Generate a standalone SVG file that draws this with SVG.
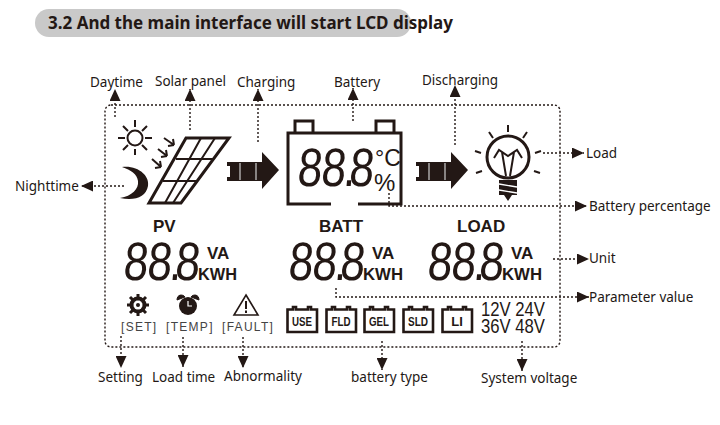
<svg xmlns="http://www.w3.org/2000/svg" xmlns:xlink="http://www.w3.org/1999/xlink" width="720" height="425" viewBox="0 0 720 425">
<style>
text{font-family:"Noto Sans","Open Sans","Liberation Sans",sans-serif;fill:#231815}
.lbl{font-size:13.5px}
.b{font-family:"Liberation Sans",Arial,sans-serif;font-weight:700}
.h{font-size:17px}
.u{font-size:17px}
.d{font-family:"Liberation Sans",Arial,sans-serif;font-size:54px}
.tag{font-family:"Liberation Sans",Arial,sans-serif;font-size:12px;letter-spacing:1.3px;fill:#444}
.chip{font-family:"Liberation Sans",Arial,sans-serif;font-weight:700;font-size:13px;text-anchor:middle}
.v{font-family:"Liberation Sans",Arial,sans-serif;font-size:20px}
.dot{fill:none;stroke:#231815;stroke-width:1.4;stroke-dasharray:2 2}
.ln{fill:none;stroke:#231815;stroke-width:3}
.th{fill:none;stroke:#231815;stroke-width:2;stroke-linecap:butt}
.gap{stroke:#fff;stroke-width:1.2;fill:none}
.f{fill:#231815}
</style>
<defs>
<marker id="ah" viewBox="0 0 12 11" refX="12" refY="5.5" markerWidth="12" markerHeight="11" markerUnits="userSpaceOnUse" orient="auto"><path d="M0 0L12 5.5L0 11Z" fill="#231815"/></marker>
<g id="gaps" class="gap">
<path d="M-1 3L5 8M18 2L24 8M-2 17L5 21M17 17L23 21M-2 33L5 39M16 33L23 39M7 20L16 20" transform="translate(0,-2)"/>
</g>
<g id="bigarrow">
<path d="M0 10H35V0L52 18L35 37V29H0V25H3V14H0Z" class="f"/>
<path d="M13 11V28M29 11V28" stroke="#ccc" stroke-width="1.2"/>
</g>
<g id="cell"><path d="M3 3H9V0H12V3H21V0H24V3H29V25H3Z" fill="none"/></g>
</defs>

<g id="banner">
<rect x="35" y="9" width="376" height="28" rx="14" fill="#c9c9c9"/>
<text x="48" y="29" font-size="17" font-weight="700" style="font-family:'Noto Sans','Open Sans',sans-serif">3.2 And the main interface will start LCD display</text>
</g>

<g id="frame"><rect x="105" y="105" width="455" height="242" rx="6" class="dot"/></g>

<g id="connectors">
<path d="M115 117V89" class="dot" marker-end="url(#ah)"/>
<path d="M190 130V89" class="dot" marker-end="url(#ah)"/>
<path d="M258 142V89" class="dot" marker-end="url(#ah)"/>
<path d="M353 121V88" class="dot" marker-end="url(#ah)"/>
<path d="M455 145V85" class="dot" marker-end="url(#ah)"/>
<path d="M124 186H81" class="dot" marker-end="url(#ah)"/>
<path d="M543 153H584" class="dot" marker-end="url(#ah)"/>
<path d="M389 193V206H587" class="dot" marker-end="url(#ah)"/>
<path d="M553 259H589" class="dot" marker-end="url(#ah)"/>
<path d="M336 288V297H589" class="dot" marker-end="url(#ah)"/>
<path d="M121 336V368" class="dot" marker-end="url(#ah)"/>
<path d="M183 337V367" class="dot" marker-end="url(#ah)"/>
<path d="M243 337V368" class="dot" marker-end="url(#ah)"/>
<path d="M382 341V370" class="dot" marker-end="url(#ah)"/>
<path d="M522 341V371" class="dot" marker-end="url(#ah)"/>
</g>

<g id="labels">
<text class="lbl" x="90" y="87">Daytime</text>
<text class="lbl" x="155" y="86">Solar panel</text>
<text class="lbl" x="237" y="87">Charging</text>
<text class="lbl" x="334" y="87">Battery</text>
<text class="lbl" x="422" y="85">Discharging</text>
<text class="lbl" x="15" y="191">Nighttime</text>
<text class="lbl" x="586" y="158">Load</text>
<text class="lbl" x="589" y="211">Battery percentage</text>
<text class="lbl" x="589" y="263">Unit</text>
<text class="lbl" x="589" y="302">Parameter value</text>
<text class="lbl" x="98" y="382">Setting</text>
<text class="lbl" x="152" y="382">Load time</text>
<text class="lbl" x="224" y="381">Abnormality</text>
<text class="lbl" x="351" y="382">battery type</text>
<text class="lbl" x="481" y="383">System voltage</text>
</g>

<g id="sun" class="th">
<circle cx="135" cy="138" r="7.5"/>
<path d="M135 120V127M135 149V155M118 138H125M145 138H152M123 126L128 131M147 126L142 131M123 150L128 145M147 150L142 145"/>
</g>
<g id="moon"><path d="M122 167C138 165 150 176 148 186C146 197 135 201 120 198C132 196 139 189 138 181C137 174 131 170 122 167Z" class="f"/></g>
<g id="sunrays" class="th">
<path d="M164 138L174 145M174 145L168 146M174 145L173 139M158 149L167 156M167 156L161 157M167 156L166 150M152 159L161 167M161 167L155 168M161 167L160 161"/>
</g>
<g id="solar-panel">
<path d="M186 138H229L181 203H149Z" class="ln"/>
<path d="M201 138L165 203M215 138L173 203M176 159H214M163 181H197" class="th"/>
</g>
<g id="charge-arrow"><use href="#bigarrow" x="227" y="152"/></g>
<g id="discharge-arrow"><use href="#bigarrow" x="416" y="152"/></g>

<g id="battery">
<path d="M331 204H288V133H401V204H358" class="ln"/>
<path d="M295 133V121H313V133M376 133V121H394V133" class="ln"/>
<text x="375" y="166" font-size="23" class="b" style="font-weight:400;font-family:'Liberation Sans',sans-serif">°C</text>
<text x="374" y="191" font-size="24" style="font-family:'Liberation Sans',sans-serif">%</text>
<g transform="translate(299,186) skewX(-5)"><text class="d" transform="scale(.82,1)" x="-3 26 53 60" y="0">88.8</text></g>
</g>

<g id="bulb" class="th">
<circle cx="508" cy="157" r="21" stroke-width="3" style="stroke-width:3"/>
<path d="M503 177H513M493 172C498 178 500 180 500 186H516C516 180 518 178 523 172" style="stroke-width:0"/>
<path d="M494 158L499 150L508 156L517 150L522 158M502 152L506 176M514 152L510 176"/>
<path d="M508 125V132M489 132L493 138M527 132L523 138M475 151L481 153M541 151L535 153M476 173L482 171M540 173L534 171" style="stroke-width:2"/>
<path d="M499 180H517V195H512L508 201L504 195H499Z" class="f" style="stroke:none"/>
<path d="M499 184L517 187M499 190L517 193" stroke="#fff" style="stroke:#fff;stroke-width:1.3"/>
</g>

<g id="pv-panel">
<text class="b h" x="153" y="232">PV</text>
<g transform="translate(125,280) skewX(-5)"><text class="d" transform="scale(.82,1)" x="-3 26 53 60" y="0">88.8</text></g>
<text class="b u" x="207" y="259">VA</text>
<text class="b u" x="198" y="280" textLength="39" lengthAdjust="spacingAndGlyphs">KWH</text>
</g>
<g id="batt-panel">
<text class="b h" x="319" y="232">BATT</text>
<g transform="translate(290,280) skewX(-5)"><text class="d" transform="scale(.82,1)" x="-3 26 53 60" y="0">88.8</text></g>
<text class="b u" x="372" y="259">VA</text>
<text class="b u" x="363" y="280" textLength="40" lengthAdjust="spacingAndGlyphs">KWH</text>
</g>
<g id="load-panel">
<text class="b h" x="457" y="232">LOAD</text>
<g transform="translate(429,280) skewX(-5)"><text class="d" transform="scale(.82,1)" x="-3 26 53 60" y="0">88.8</text></g>
<text class="b u" x="511" y="259">VA</text>
<text class="b u" x="502" y="280" textLength="40" lengthAdjust="spacingAndGlyphs">KWH</text>
</g>

<g id="set">
<circle cx="138" cy="305" r="6.5" fill="none" stroke="#231815" stroke-width="4"/>
<path d="M138 294V316M127 305H149M130 297L146 313M146 297L130 313" stroke="#231815" stroke-width="3"/>
<circle cx="138" cy="305" r="4.5" fill="#fff"/><circle cx="138" cy="305" r="2" class="f"/>
<text class="tag" x="121" y="331">[SET]</text>
</g>
<g id="temp">
<circle cx="188" cy="306" r="9" class="f"/>
<path d="M177 300C177 294 183 294 185 297ZM199 300C199 294 193 294 191 297Z" class="f" stroke="#231815"/>
<path d="M188 301V306H192" stroke="#fff" stroke-width="1.2" fill="none"/>
<text class="tag" x="166" y="331">[TEMP]</text>
</g>
<g id="fault">
<path d="M246 295L258 315H234Z" fill="none" stroke="#231815" stroke-width="1.6"/>
<path d="M246 301V309M246 310.500V313" stroke="#231815" stroke-width="2"/>
<text class="tag" x="222" y="331">[FAULT]</text>
</g>

<g id="use-chip"><path d="M287.500 309.500H293V307H296V309.500H308V307H311V309.500H317V332H287.500Z" fill="none" stroke="#231815" stroke-width="2.600"/><text class="chip" x="302" y="326" textLength="20" lengthAdjust="spacingAndGlyphs">USE</text></g>
<g id="fld-chip"><path d="M326.500 309.500H332V307H335V309.500H347V307H350V309.500H356V332H326.500Z" fill="none" stroke="#231815" stroke-width="2.600"/><text class="chip" x="341" y="326" textLength="19" lengthAdjust="spacingAndGlyphs">FLD</text></g>
<g id="gel-chip"><path d="M364.500 309.500H370V307H373V309.500H385V307H388V309.500H394V332H364.500Z" fill="none" stroke="#231815" stroke-width="2.600"/><text class="chip" x="379" y="326" textLength="20" lengthAdjust="spacingAndGlyphs">GEL</text></g>
<g id="sld-chip"><path d="M403.500 309.500H409V307H412V309.500H424V307H427V309.500H433V332H403.500Z" fill="none" stroke="#231815" stroke-width="2.600"/><text class="chip" x="418" y="326" textLength="20" lengthAdjust="spacingAndGlyphs">SLD</text></g>
<g id="li-chip"><path d="M442.500 309.500H448V307H451V309.500H463V307H466V309.500H472V332H442.500Z" fill="none" stroke="#231815" stroke-width="2.600"/><text class="chip" x="457" y="326">LI</text></g>

<g id="voltage">
<text class="v" x="481" y="316" textLength="64" lengthAdjust="spacingAndGlyphs">12V 24V</text>
<text class="v" x="481" y="333" textLength="64" lengthAdjust="spacingAndGlyphs">36V 48V</text>
</g>
</svg>
